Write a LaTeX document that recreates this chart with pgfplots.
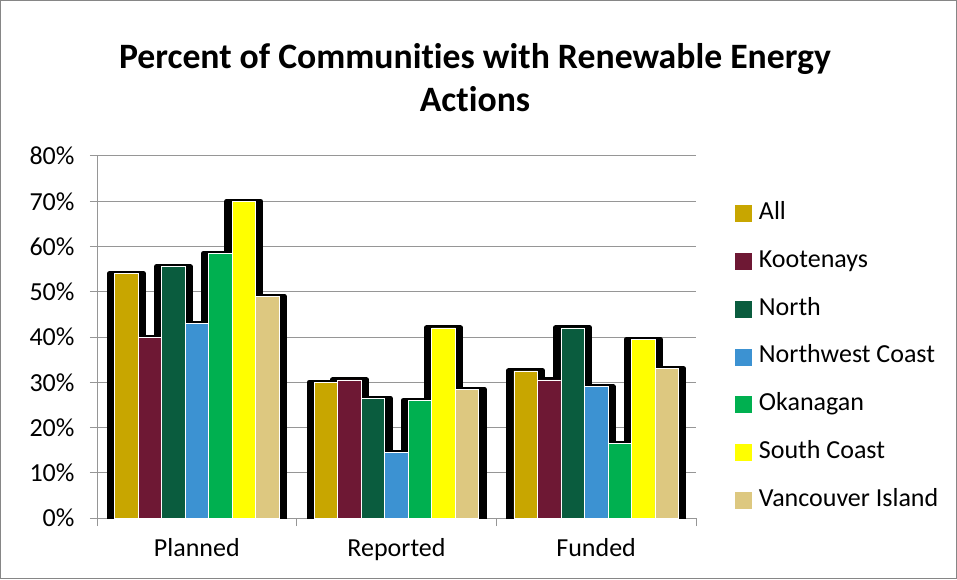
\documentclass[border=0pt]{standalone}
\usepackage{pgfplots}
\pgfplotsset{compat=1.18}
\usepackage{fontspec}
\setmainfont{Carlito}[Ligatures=CommonOff]
\definecolor{cAll}{RGB}{200,166,0}
\definecolor{cKoo}{RGB}{110,24,52}
\definecolor{cNor}{RGB}{10,92,62}
\definecolor{cNWC}{RGB}{60,146,210}
\definecolor{cOka}{RGB}{0,176,80}
\definecolor{cSC}{RGB}{255,255,0}
\definecolor{cVI}{RGB}{221,200,128}
\definecolor{gridgray}{RGB}{150,150,150}
\definecolor{framegray}{RGB}{134,134,134}
\pgfplotstableread{
cat All Koo Nor NWC Oka SC VI
0 54 40 55.5 43 58.5 70 49
1 30 30.5 26.5 14.5 26 42 28.5
2 32.5 30.5 42 29 16.5 39.5 33
}\data
\pgfplotsset{
  shadowbar/.style={ybar, bar width=34pt, bar shift=#1, fill=black, draw=black, line width=5pt, line join=round, forget plot},
  colbar/.style 2 args={ybar, bar width=23.5pt, bar shift=#1, draw=white, line width=0.8pt,
    fill=#2,
    legend image code/.code={\fill[#2] (0pt,-8pt) rectangle (16pt,8pt);}},
}
\begin{document}
\begin{tikzpicture}[x=1pt,y=1pt]
\draw[framegray, line width=1pt] (0.5,0.5) rectangle (956.5,578.5);
\node[font=\bfseries\fontsize{35.7}{43}\selectfont, align=center] at (475,501.5) {Percent of Communities with Renewable Energy\\Actions};
\begin{axis}[
  at={(97pt,61pt)}, anchor=south west, scale only axis,
  width=599pt, height=362pt,
  xmin=-0.5, xmax=2.5, ymin=0, ymax=80,
  axis x line*=bottom, axis y line*=left,
  axis line style={gridgray, line width=1pt},
  xtick={0,1,2}, xticklabels={Planned,Reported,Funded},
  minor xtick={-0.5,0.5,1.5,2.5},
  major x tick style={draw=none},
  minor x tick style={gridgray, line width=1pt},
  minor tick length=8pt,
  ytick={0,10,...,80},
  yticklabel={\pgfmathprintnumber{\tick}\%},
  y tick style={gridgray, line width=1pt},
  major tick length=7pt,
  tick align=outside,
  ymajorgrids, grid style={gridgray, line width=1pt},
  /pgf/number format/assume math mode=true,
  ticklabel style={font=\fontsize{26}{26}\selectfont},
  yticklabel style={xshift=-12pt},
  xticklabel style={yshift=-10pt},
  legend style={at={(1.065,0.445)}, anchor=west, draw=none, fill=none,
    font=\fontsize{26}{26}\selectfont, row sep=23.7pt, inner sep=0pt,
    nodes={inner sep=0pt, text height=18pt, text depth=6pt},
    /tikz/every odd column/.append style={column sep=7pt}},
  legend cell align=left,
]
\addplot[shadowbar=-70.5pt] table[x=cat,y=All]{\data};
\addplot[shadowbar=-47pt] table[x=cat,y=Koo]{\data};
\addplot[shadowbar=-23.5pt] table[x=cat,y=Nor]{\data};
\addplot[shadowbar=0pt] table[x=cat,y=NWC]{\data};
\addplot[shadowbar=23.5pt] table[x=cat,y=Oka]{\data};
\addplot[shadowbar=47pt] table[x=cat,y=SC]{\data};
\addplot[shadowbar=70.5pt] table[x=cat,y=VI]{\data};
\addplot[colbar={-70.5pt}{cAll}] table[x=cat,y=All]{\data};
\addplot[colbar={-47pt}{cKoo}] table[x=cat,y=Koo]{\data};
\addplot[colbar={-23.5pt}{cNor}] table[x=cat,y=Nor]{\data};
\addplot[colbar={0pt}{cNWC}] table[x=cat,y=NWC]{\data};
\addplot[colbar={23.5pt}{cOka}] table[x=cat,y=Oka]{\data};
\addplot[colbar={47pt}{cSC}] table[x=cat,y=SC]{\data};
\addplot[colbar={70.5pt}{cVI}] table[x=cat,y=VI]{\data};
\legend{All,Kootenays,North,Northwest Coast,Okanagan,South Coast,Vancouver Island}
\end{axis}
\end{tikzpicture}
\end{document}
